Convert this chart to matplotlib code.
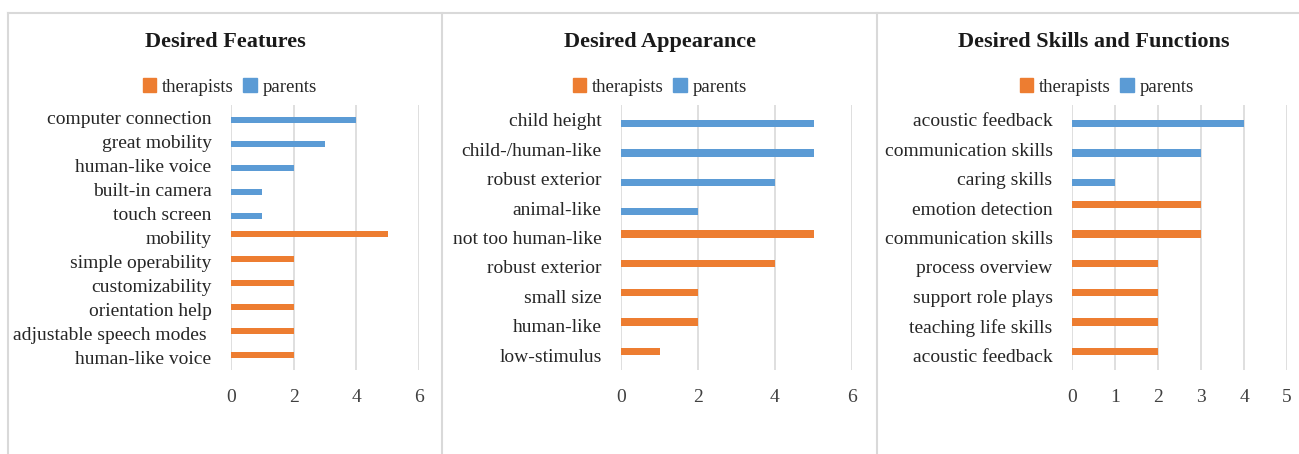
import matplotlib.pyplot as plt
from matplotlib.patches import Patch
from matplotlib.lines import Line2D
import numpy as np

# --- data (top to bottom) ---
features = ['computer connection', 'great mobility', 'human-like voice', 'built-in camera',
            'touch screen', 'mobility', 'simple operability', 'customizability',
            'orientation help', 'adjustable speech modes ', 'human-like voice']
features_parents = [4, 3, 2, 1, 1, 0, 0, 0, 0, 0, 0]
features_therapists = [0, 0, 0, 0, 0, 5, 2, 2, 2, 2, 2]

appearance = ['child height', 'child-/human-like', 'robust exterior', 'animal-like',
              'not too human-like', 'robust exterior', 'small size', 'human-like', 'low-stimulus']
appearance_parents = [5, 5, 4, 2, 0, 0, 0, 0, 0]
appearance_therapists = [0, 0, 0, 0, 5, 4, 2, 2, 1]

skills = ['acoustic feedback', 'communication skills', 'caring skills', 'emotion detection',
          'communication skills', 'process overview', 'support role plays',
          'teaching life skills', 'acoustic feedback']
skills_parents = [4, 3, 1, 0, 0, 0, 0, 0, 0]
skills_therapists = [0, 0, 0, 3, 3, 2, 2, 2, 2]

titles = ['Desired Features', 'Desired Appearance', 'Desired Skills and Functions']
x_ticks = [[0, 2, 4, 6], [0, 2, 4, 6], [0, 1, 2, 3, 4, 5]]

ORANGE = '#ED7D31'
BLUE = '#5B9BD5'
GRID = '#D9D9D9'

plt.rcParams['font.family'] = ['Liberation Serif', 'DejaVu Serif']

W, H = 1299, 454
fig = plt.figure(figsize=(W / 100, H / 100), dpi=100)

# panel geometry in pixels: axis x0, axis x at max tick, title centre, legend centre
panels = [
    (features, features_therapists, features_parents, 231, 419, 225, 230),
    (appearance, appearance_therapists, appearance_parents, 621, 852, 660, 660),
    (skills, skills_therapists, skills_parents, 1072, 1287, 1094, 1107),
]

for i, (cats, ther, par, x0, x1, tcx, lcx) in enumerate(panels):
    ax = fig.add_axes([x0 / W, 1 - 370 / H, (x1 - x0) / W, 265 / H])
    y = np.arange(len(cats))
    ax.barh(y - 0.125, ther, height=0.25, color=ORANGE, zorder=3)
    ax.barh(y + 0.125, par, height=0.25, color=BLUE, zorder=3)
    ax.set_ylim(len(cats) - 0.5, -0.5)
    ax.set_xlim(x_ticks[i][0], x_ticks[i][-1])
    ax.set_xticks(x_ticks[i])
    ax.set_yticks(y)
    ax.set_yticklabels(cats)
    ax.tick_params(axis='y', length=0, pad=14, labelsize=14, colors='#262626')
    ax.tick_params(axis='x', length=0, pad=14, labelsize=14, colors='#404040')
    ax.grid(axis='x', color=GRID, linewidth=1.2, zorder=0)
    for s in ax.spines.values():
        s.set_visible(False)

    fig.text(tcx / W, 1 - 42 / H, titles[i], ha='center', va='center',
             fontsize=16, fontweight='bold', color='#1a1a1a')

    handles = [Patch(color=ORANGE, label='therapists'), Patch(color=BLUE, label='parents')]
    fig.legend(handles=handles, loc='center', bbox_to_anchor=(lcx / W, 1 - 87 / H),
               ncol=2, frameon=False, fontsize=13.5, handlelength=0.7, handleheight=0.7,
               handletextpad=0.35, columnspacing=0.5, labelcolor='#262626')

# light grey frame lines around / between panels
for line in [
    Line2D([8 / W, 1], [1 - 13 / H, 1 - 13 / H]),
    Line2D([8 / W, 8 / W], [0, 1 - 13 / H]),
    Line2D([442 / W, 442 / W], [0, 1 - 13 / H]),
    Line2D([877 / W, 877 / W], [0, 1 - 13 / H]),
]:
    line.set_color(GRID)
    line.set_linewidth(1.5)
    fig.add_artist(line)

fig.savefig('out.png', dpi=100, facecolor='white')
